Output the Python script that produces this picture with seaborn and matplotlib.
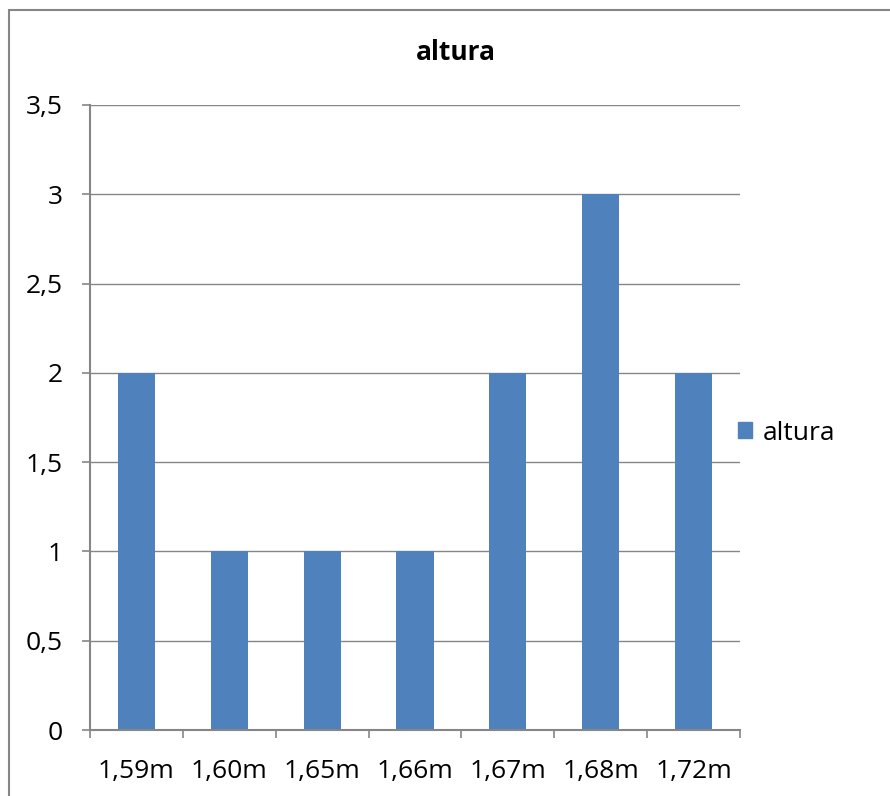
import numpy as np
import pandas as pd
import seaborn as sns
import matplotlib.pyplot as plt
from matplotlib.patches import Rectangle

# Données
categorias = ['1,59m', '1,60m', '1,65m', '1,66m', '1,67m', '1,68m', '1,72m']
valores = [2, 1, 1, 1, 2, 3, 2]
serie = 'altura'
ticks_y = [0, 0.5, 1, 1.5, 2, 2.5, 3, 3.5]
labels_y = ['0', '0,5', '1', '1,5', '2', '2,5', '3', '3,5']

sns.set_style('white')
plt.rcParams['font.family'] = ['Open Sans', 'DejaVu Sans']
plt.rcParams['text.color'] = 'black'
plt.rcParams['xtick.color'] = 'black'
plt.rcParams['ytick.color'] = 'black'

df = pd.DataFrame({'Categoria': categorias, 'Valor': valores, 'Serie': serie})

fig = plt.figure(figsize=(8.9, 7.96), dpi=100)
ax = fig.add_axes([0.1011, 0.0829, 0.7303, 0.7852])

cinza = '#868686'
azul = '#4F81BD'
sns.barplot(data=df, x='Categoria', y='Valor', hue='Serie', palette=[azul],
            width=0.4, ax=ax, legend=False, saturation=1, linewidth=0)

ax.set_xlim(-0.5, len(categorias) - 0.5)
ax.set_ylim(0, 3.5)
ax.set_yticks(ticks_y)
ax.set_yticklabels(labels_y, fontsize=19)
ax.yaxis.grid(True, color=cinza, linewidth=1)
ax.set_axisbelow(True)

# ticks majeurs aux bornes, labels au centre
ax.set_xticks(np.arange(-0.5, len(categorias), 1))
ax.set_xticklabels([])
ax.set_xticks(np.arange(len(categorias)), minor=True)
ax.set_xticklabels(categorias, minor=True, fontsize=19)
ax.tick_params(axis='x', which='major', bottom=True, length=5.8, color=cinza, width=1.2, direction='out')
ax.tick_params(axis='x', which='minor', bottom=True, length=0, pad=21)
ax.tick_params(axis='y', left=True, length=5.8, color=cinza, width=1.2, direction='out', pad=14)
ax.set_xlabel('')
ax.set_ylabel('')

for side in ['top', 'right']:
    ax.spines[side].set_visible(False)
for side in ['left', 'bottom']:
    ax.spines[side].set_color(cinza)
    ax.spines[side].set_linewidth(1.5)

# légende
handle = Rectangle((0, 0), 1, 1, color=azul)
fig.legend([handle], [serie], loc='center left', bbox_to_anchor=(0.802, 1 - 433 / 796),
           frameon=False, fontsize=19, handlelength=0.55, handleheight=0.55, handletextpad=0.4)

fig.text(0.512, 1 - 52 / 796, 'altura', ha='center', va='center', fontsize=19, weight='bold')

cadre = Rectangle((9 / 890, -0.05), 1.1, 0.05 + 1 - 10 / 796, fill=False,
                  edgecolor=cinza, linewidth=1.5, transform=fig.transFigure, figure=fig)
fig.patches.append(cadre)

fig.savefig('out.png', dpi=100)
